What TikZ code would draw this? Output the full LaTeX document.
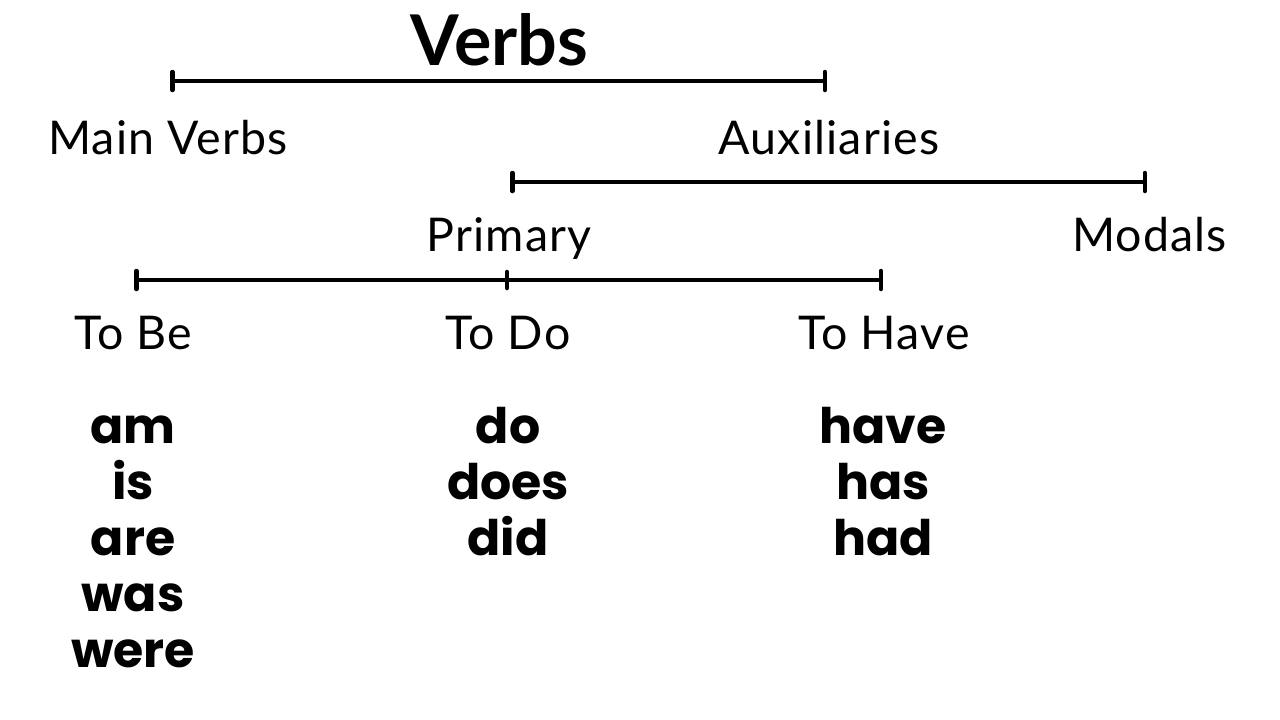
\documentclass[tikz,border=0pt]{standalone}
\usepackage{fontspec}
\setmainfont{Lato}
\newfontfamily\labelfont{Lato}[LetterSpace=2.5]
\newfontfamily\wordfont{Poppins}
\usepackage{tikz}
\usetikzlibrary{arrows.meta}

\tikzset{
	bracket/.style={line width=4.5pt, {Bar[width=18pt,round]}-{Bar[width=18pt,round]}},
	tick/.style={line width=4.5pt, line cap=round},
	label/.style={anchor=base, inner sep=0pt, font=\fontsize{46.5}{50}\selectfont\labelfont},
	title/.style={anchor=base, inner sep=0pt, font=\fontsize{70}{80}\selectfont\bfseries},
	word/.style={anchor=base, inner sep=0pt, font=\fontsize{49}{56}\selectfont\wordfont\bfseries}
}

\begin{document}
\begin{tikzpicture}[x=1pt,y=-1pt]
	\useasboundingbox (0,0) rectangle (1280,720);
	
	\node[title] (verbs) at (499.5,65) {Verbs};
	
	\coordinate (mainT) at (170,81);
	\coordinate (auxT) at (827,81);
	\draw[bracket] (mainT) -- (auxT);
	\node[label] (main) at (168,154) {Main Verbs};
	\node[label] (aux) at (829,154) {Auxiliaries};
	
	\coordinate (primT) at (510,182);
	\coordinate (modT) at (1147,182);
	\draw[bracket] (primT) -- (modT);
	\node[label] (prim) at (509,251) {Primary};
	\node[label] (mod) at (1149.5,251) {Modals};
	
	\coordinate (beT) at (134,280);
	\coordinate (doT) at (507,280);
	\coordinate (haveT) at (883,280);
	\draw[bracket] (beT) -- (haveT);
	\draw[tick] ([yshift=-8pt]doT) -- ([yshift=8pt]doT);
	\node[label] (tobe) at (133,349) {To Be};
	\node[label] (todo) at (508,349) {To Do};
	\node[label] (tohave) at (884,349) {To Have};
	
	% word lists
	\foreach \w [count=\i] in {am,is,are,was,were}
		\node[word] (be\i) at (133,387+56*\i) {\w};
	\foreach \w [count=\i] in {do,does,did}
		\node[word] (do\i) at (508,387+56*\i) {\w};
	\foreach \w [count=\i] in {have,has,had}
		\node[word] (have\i) at (883,387+56*\i) {\w};
	
\end{tikzpicture}
\end{document}
